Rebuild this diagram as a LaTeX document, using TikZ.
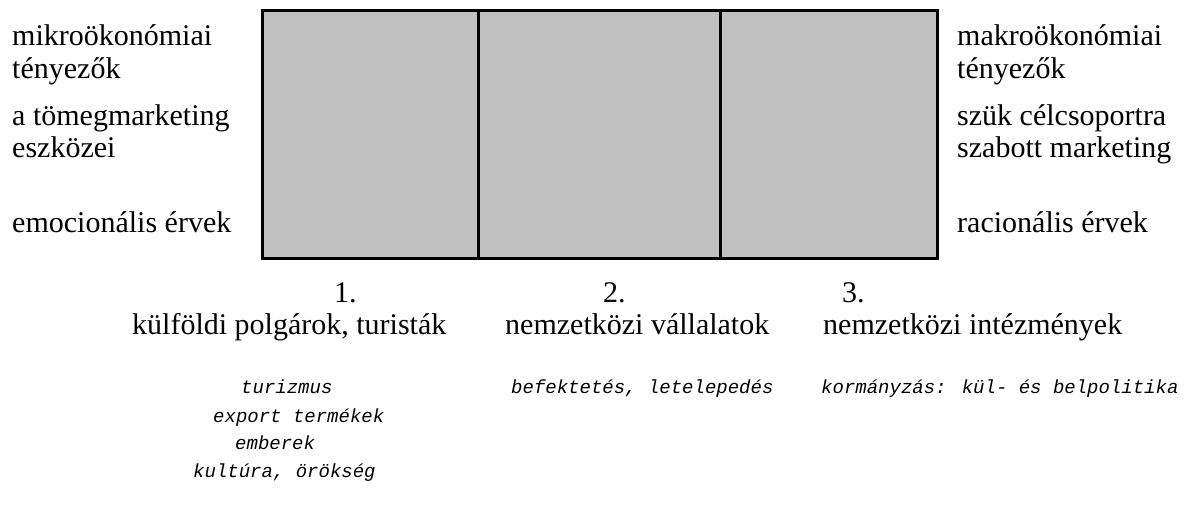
\documentclass[tikz,border=0pt]{standalone}
\usepackage{fontspec}
\setmainfont{Liberation Serif}
\newfontfamily\notefont{Liberation Mono}
\usetikzlibrary{positioning}

\definecolor{panelgray}{RGB}{192,192,192}

\tikzset{
  side/.style={anchor=base west, inner sep=0pt, font=\fontsize{30}{33}\selectfont},
  head/.style={anchor=base west, inner sep=0pt, font=\fontsize{30}{33}\selectfont},
  note/.style={anchor=base west, inner sep=0pt, font=\notefont\itshape\fontsize{19}{22}\selectfont},
  panel/.style={draw=black, line width=3pt, fill=panelgray}
}

\begin{document}
\begin{tikzpicture}[x=1pt, y=-1pt]
			\useasboundingbox (0,0) rectangle (1185,509);
			
			% Box corners and dividers
			\coordinate (NW) at (262,10);
			\coordinate (SE) at (937,258);
			\coordinate (D1) at (478,10);
			\coordinate (D1b) at (478,258);
			\coordinate (D2) at (720,10);
			\coordinate (D2b) at (720,258);
			
			% Draw box
			\draw[panel] (NW) rectangle (SE);
			\draw[line width=3pt] (D1) -- (D1b);
			\draw[line width=3pt] (D2) -- (D2b);
			
			% Left side
			\node[side] (micro) at (12,45) {mikroökonómiai};
			\node[side] (microb) at (12,78) {tényezők};
			\node[side] (mass) at (12,125) {a tömegmarketing};
			\node[side] (massb) at (12,157) {eszközei};
			\node[side] (emo) at (12,232) {emocionális érvek};
			
			% Right side
			\node[side] (macro) at (957,45) {makroökonómiai};
			\node[side] (macrob) at (957,78) {tényezők};
			\node[side] (target) at (957,125) {szük célcsoportra};
			\node[side] (targetb) at (957,157) {szabott marketing};
			\node[side] (rat) at (957,232) {racionális érvek};
			
			% Groups below the box
			\node[head] (n1) at (334,302) {1.};
			\node[head] (g1) at (132,334) {külföldi polgárok, turisták};
			\node[head] (n2) at (603,302) {2.};
			\node[head] (g2) at (505,334) {nemzetközi vállalatok};
			\node[head] (n3) at (842,302) {3.};
			\node[head] (g3) at (823,334) {nemzetközi intézmények};
			
			% Notes
			\node[note] (t1) at (241,393) {turizmus};
			\node[note] (t2) at (213,422) {export termékek};
			\node[note] (t3) at (235,449) {emberek};
			\node[note] (t4) at (193,477) {kultúra, örökség};
			\node[note] (c1) at (511,393) {befektetés, letelepedés};
			\node[note] (i1) at (821,393) {kormányzás: kül- és belpolitika};
			
		\end{tikzpicture}
\end{document}
